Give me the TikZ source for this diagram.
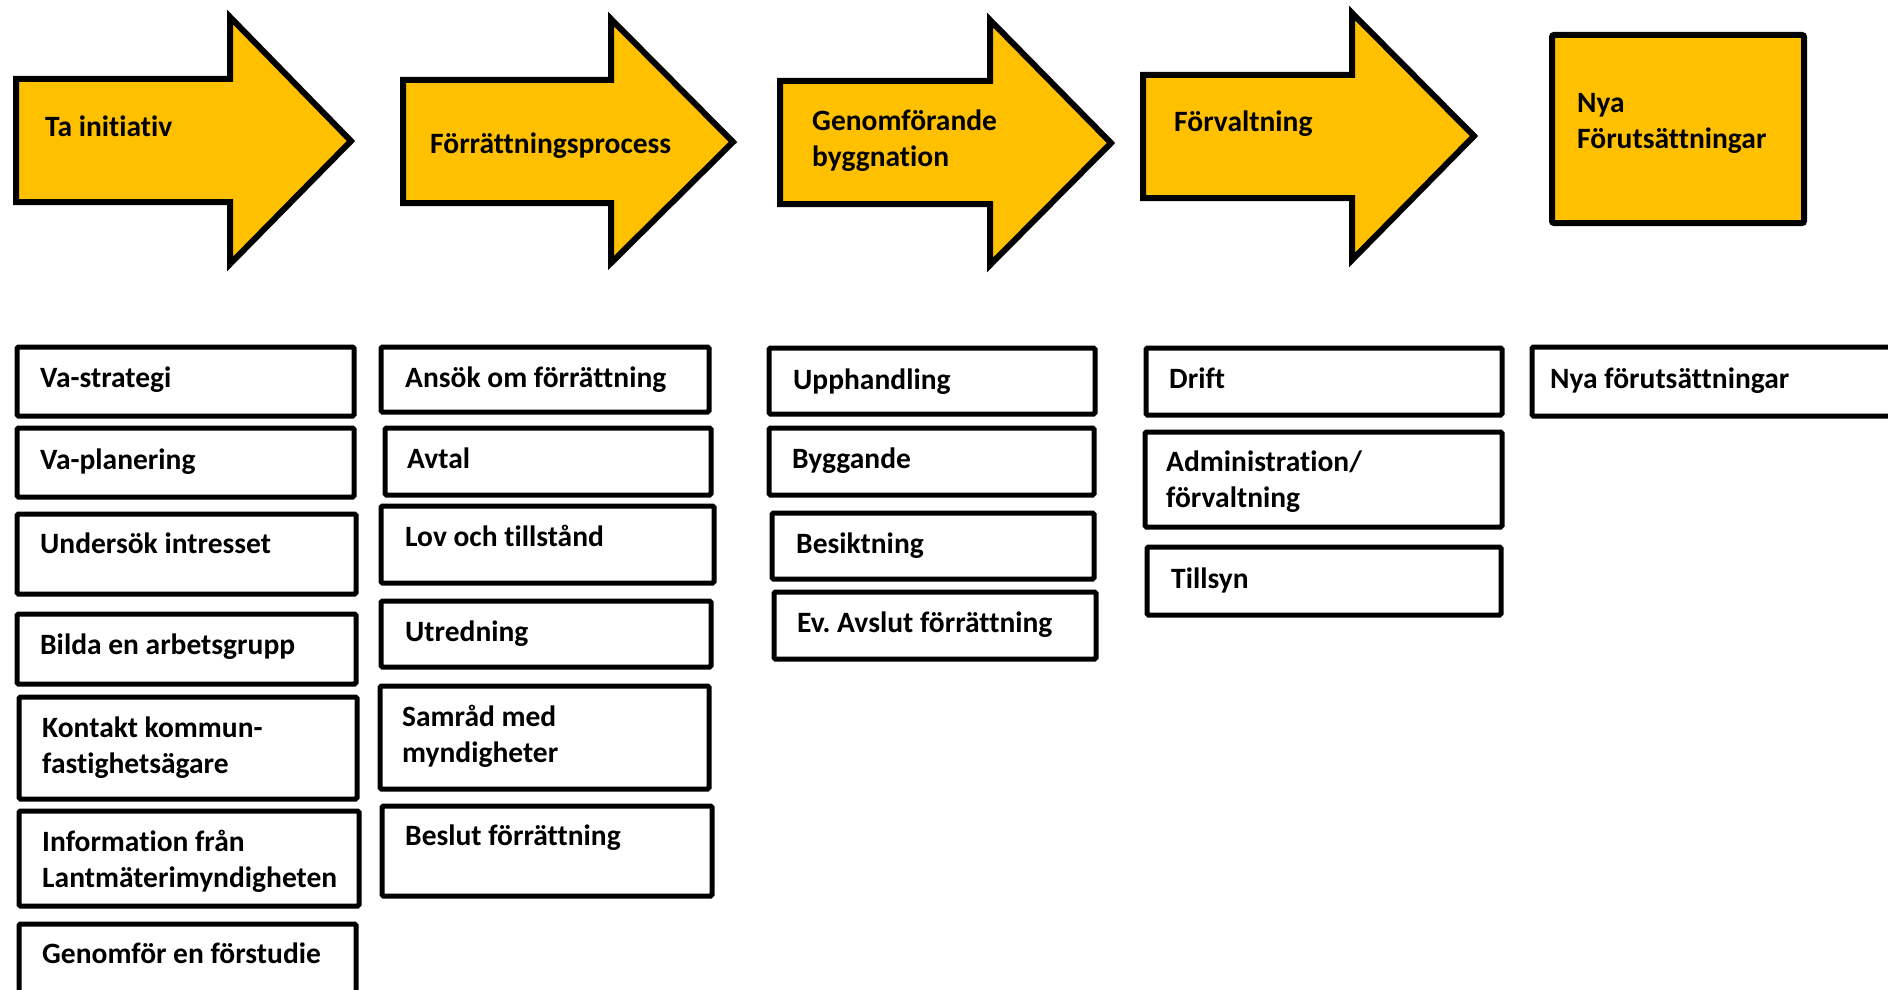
\documentclass[tikz,border=0pt]{standalone}
\usepackage{fontspec}
\setmainfont{Carlito}[Ligatures=NoCommon]
\usetikzlibrary{fit}
\definecolor{gold}{HTML}{FFC000}
\frenchspacing
\newcommand{\lns}[1]{\begin{tabular}[t]{@{}l@{}}#1\end{tabular}}
\newcommand{\taskbox}[8]{%
  \node[taskbox, fit={(#2,#3)(#4,#5)}] (#1) {};
  \node[lbl] (#1-t) at (#6,#7) {\lns{#8}};}
\newcommand{\stagearrow}[9]{%
  \draw[arrowshape] (#2,#3) -- (#5,#3) -- (#5,#6) -- (#8,#9) -- (#5,#7) -- (#5,#4) -- (#2,#4) -- cycle;
  \coordinate (#1) at (#8,#9);}
\begin{document}
\begin{tikzpicture}[x=1pt,y=-1pt,
  arrowshape/.style={fill=gold, draw=black, line width=6pt, line join=miter},
  taskbox/.style={draw=black, line width=5pt, rounded corners=1.5pt, inner sep=0pt, fill=white},
  lbl/.style={anchor=base west, inner sep=0pt, font=\fontsize{29.5}{36}\selectfont\bfseries},
  endbox/.style={fill=gold, draw=black, line width=6pt, rounded corners=2pt, inner sep=0pt}]
\useasboundingbox (0,0) rectangle (1888,990);
\clip (0,0) rectangle (1888,990);
\fill[white] (0,0) rectangle (1888,990);

% stage arrows: name, L, bodytop, bodybottom, headx, headtop, headbottom, tipx, tipy
\stagearrow{a1}{16}{79}{202}{230}{17}{264}{351}{141}
\stagearrow{a2}{403}{80}{203}{611}{19}{263}{733}{142}
\stagearrow{a3}{780}{81}{204}{990}{20}{265}{1111}{143}
\stagearrow{a4}{1143}{75}{198}{1352}{13}{260}{1474}{136}
\node[endbox, fit={(1552,35)(1804,223)}] (a5) {};

\node[lbl] (a1-t) at (45,136) {\lns{Ta initiativ}};
\node[lbl] (a2-t) at (430,153) {\lns{Förrättningsprocess}};
\node[lbl] (a3-t) at (812,130) {\lns{Genomförande\\byggnation}};
\node[lbl] (a4-t) at (1174,131) {\lns{Förvaltning}};
\node[lbl] (a5-t) at (1577,112) {\lns{Nya\\Förutsättningar}};

% column 1
\taskbox{c1a}{17}{347}{354}{416}{40}{387}{Va-strategi}
\taskbox{c1b}{17}{428}{354}{497}{40}{469}{Va-planering}
\taskbox{c1c}{17}{514}{356}{594}{40}{553}{Undersök intresset}
\taskbox{c1d}{17}{614}{356}{684}{40}{654}{Bilda en arbetsgrupp}
\taskbox{c1e}{19}{697}{357}{799}{42}{737}{Kontakt kommun-\\fastighetsägare}
\taskbox{c1f}{19}{811}{359}{906}{42}{851}{Information från\\Lantmäterimyndigheten}
\taskbox{c1g}{19}{924}{356}{1010}{42}{963}{Genomför en förstudie}
% column 2
\taskbox{c2a}{381}{347}{709}{412}{405}{387}{Ansök om förrättning}
\taskbox{c2b}{385}{428}{711}{495}{407}{468}{Avtal}
\taskbox{c2c}{381}{506}{714}{583}{405}{546}{Lov och tillstånd}
\taskbox{c2d}{381}{601}{711}{667}{405}{641}{Utredning}
\taskbox{c2e}{380}{686}{709}{789}{402}{726}{Samråd med\\myndigheter}
\taskbox{c2f}{382}{806}{712}{896}{405}{845}{Beslut förrättning}
% column 3
\taskbox{c3a}{769}{348}{1095}{414}{793}{389}{Upphandling}
\taskbox{c3b}{769}{428}{1094}{495}{792}{468}{Byggande}
\taskbox{c3c}{772}{513}{1094}{579}{796}{553}{Besiktning}
\taskbox{c3d}{774}{592}{1096}{659}{797}{632}{Ev. Avslut förrättning}
% column 4
\taskbox{c4a}{1146}{348}{1502}{415}{1169}{388}{Drift}
\taskbox{c4b}{1145}{432}{1502}{527}{1166}{471}{Administration/\\förvaltning}
\taskbox{c4c}{1147}{547}{1501}{615}{1171}{588}{Tillsyn}
% column 5
\taskbox{c5a}{1532}{347}{1895}{416}{1550}{388}{Nya förutsättningar}
\end{tikzpicture}
\end{document}
